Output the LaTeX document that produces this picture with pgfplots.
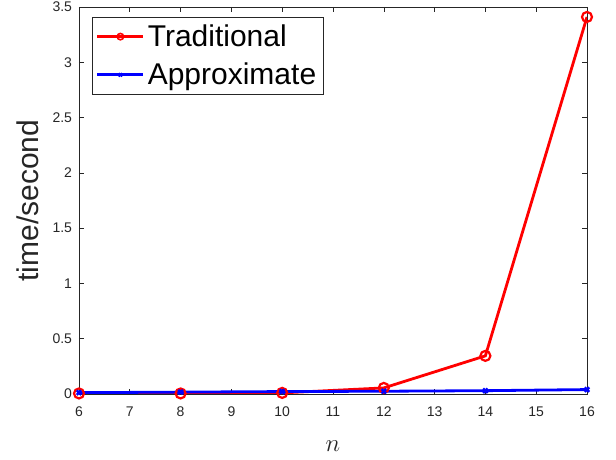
\documentclass[border=0pt]{standalone}
\usepackage{fontspec}
\setmainfont{Liberation Sans}
\usepackage{pgfplots}
\pgfplotsset{compat=1.18}
\definecolor{axgray}{RGB}{38,38,38}
\begin{document}
\begin{tikzpicture}
\begin{axis}[
  name=ax,
  scale only axis, width=508pt, height=387pt,
  xmin=6, xmax=16, ymin=0, ymax=3.5,
  xtick={6,7,...,16}, ytick={0,0.5,...,3.5},
  xtick pos=both, ytick pos=both,
  tick align=inside, major tick length=5pt,
  axis line style={axgray, line width=0.6pt},
  every tick/.style={axgray, line width=0.6pt},
  /pgf/number format/assume math mode=true,
  ticklabel style={font=\fontsize{14}{17}\selectfont, text=axgray},
  xticklabel style={yshift=-9pt},
  yticklabel style={xshift=-3.5pt},
  xlabel={$n$}, ylabel={time/second},
  xlabel style={font=\fontsize{32}{38}\selectfont, text=axgray,
    at={(axis description cs:0.5,0)}, anchor=base, yshift=-58pt},
  ylabel style={font=\fontsize{30}{36}\selectfont, text=axgray,
    at={(axis description cs:-0.1004,0.5)}, anchor=center},
  legend style={at={(0,1)}, anchor=north west, xshift=12.7pt, yshift=-9.7pt,
    font=\fontsize{30}{36}\selectfont, draw=axgray, line width=0.6pt,
    row sep=11pt, inner xsep=4pt, inner ysep=6pt,
    nodes={inner xsep=3pt}},
  legend cell align=left,
  legend image code/.code={
    \draw[#1, mark repeat=2, mark phase=2] plot coordinates {(0pt,0pt) (23pt,0pt) (46pt,0pt)};
  },
]
\addplot[red, line width=2.8pt, mark=o, mark size=5pt, mark options={line width=2.2pt},
  legend image post style={mark size=3.2pt, mark options={line width=1.6pt}}]
  coordinates {(6,0.005) (8,0.005) (10,0.01) (12,0.055) (14,0.345) (16,3.41)};
\addlegendentry{Traditional}
\addplot[blue, line width=2.8pt, mark=x, mark size=3.2pt, mark options={line width=2.4pt},
  legend image post style={mark size=2.4pt, mark options={line width=1.8pt}}]
  coordinates {(6,0.012) (8,0.017) (10,0.022) (12,0.025) (14,0.03) (16,0.04)};
\addlegendentry{Approximate}
\end{axis}
\pgfresetboundingbox
\path (ax.south west) ++(-79pt,-66pt) coordinate (bl);
\path (ax.north east) ++(29pt,7pt) coordinate (tr);
\path[use as bounding box] (bl) rectangle (tr);
\end{tikzpicture}
\end{document}
